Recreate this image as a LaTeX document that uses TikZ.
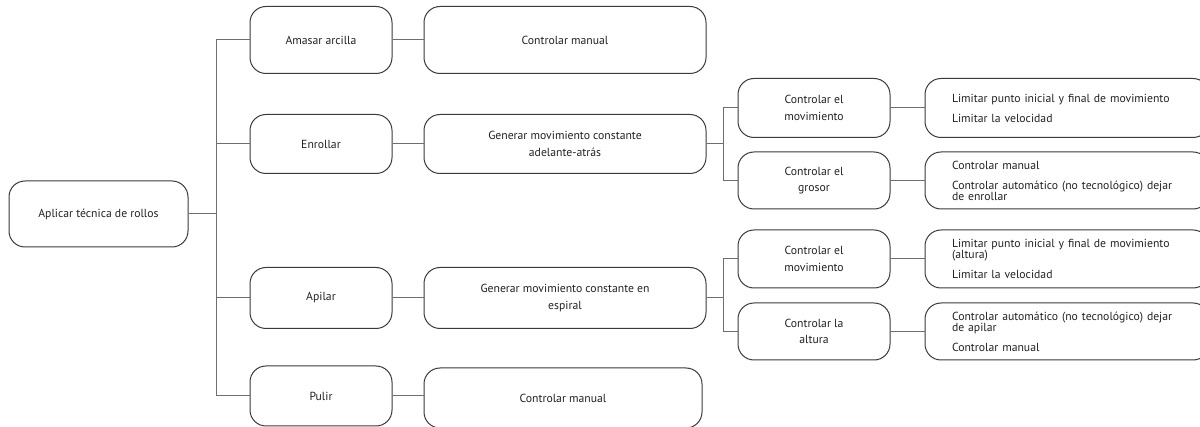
\documentclass[tikz,border=0pt]{standalone}
\usepackage{fontspec}
\setmainfont{PT Sans}
\definecolor{boxc}{HTML}{3A3A3A}
\definecolor{linec}{HTML}{6E6E6E}
\definecolor{txtc}{HTML}{222222}
\begin{document}
\begin{tikzpicture}[x=1pt,y=-1pt,
  box/.style={draw=boxc, line width=1pt, rounded corners=16pt, align=center,
    inner sep=0pt, text=txtc, font=\fontsize{11.7}{16.5}\selectfont},
  leftbox/.style={box, align=left, text width=230pt, inner xsep=27pt, inner ysep=0pt,
    minimum width=284pt, minimum height=#1, font=\fontsize{11.7}{11}\selectfont},
  conn/.style={draw=linec, line width=1pt}]
\clip (0,0) rectangle (1200,427);
\fill[white] (0,0) rectangle (1200,427);
% level 0
\node[box, minimum width=179pt, minimum height=66pt] (root) at (98.5,214) {Aplicar técnica de rollos};
% level 1
\node[box, minimum width=142pt, minimum height=67pt] (amasar) at (321,40) {Amasar arcilla};
\node[box, minimum width=142pt, minimum height=59pt] (enrollar) at (321,144) {Enrollar};
\node[box, minimum width=142pt, minimum height=61pt] (apilar) at (321,298) {Apilar};
\node[box, minimum width=142pt, minimum height=60pt] (pulir) at (321,396) {Pulir};
% level 2
\node[box, minimum width=282pt, minimum height=67pt] (cm1) at (565,40) {Controlar manual};
\node[box, minimum width=282pt, minimum height=59pt] (gen1) at (565,144) {Generar movimiento constante\\adelante-atrás};
\node[box, minimum width=282pt, minimum height=61pt] (gen2) at (565,298) {Generar movimiento constante en\\espiral};
\node[box, minimum width=278pt, minimum height=60pt] (cm2) at (563,398) {Controlar manual};
% level 3
\node[box, minimum width=152pt, minimum height=59pt] (mov1) at (814,108) {Controlar el\\movimiento};
\node[box, minimum width=152pt, minimum height=57pt] (gros) at (814,180.5) {Controlar el\\grosor};
\node[box, minimum width=152pt, minimum height=58pt] (mov2) at (814,259) {Controlar el\\movimiento};
\node[box, minimum width=152pt, minimum height=57pt] (alt) at (814,331.5) {Controlar la\\altura};
% level 4
\node[leftbox=59pt] (lim1) at (1067,108) {Limitar punto inicial y final de movimiento\\[9pt]Limitar la velocidad};
\node[leftbox=57pt] (man1) at (1067,180.5) {Controlar manual\\[9pt]Controlar automático (no tecnológico) dejar\\de enrollar};
\node[leftbox=58pt] (lim2) at (1067,259) {Limitar punto inicial y final de movimiento\\(altura)\\[9pt]Limitar la velocidad};
\node[leftbox=57pt] (aut2) at (1067,331.5) {Controlar automático (no tecnológico) dejar\\de apilar\\[9pt]Controlar manual};
% connectors level 0-1
\coordinate (t0) at (216,214);
\draw[conn] (root.east) -- (t0);
\draw[conn] (amasar.west) -| (t0);
\draw[conn] (pulir.west) -| (t0);
\draw[conn] (enrollar.west) -- (enrollar.west -| t0);
\draw[conn] (apilar.west) -- (apilar.west -| t0);
% level 1-2
\draw[conn] (amasar.east) -- (cm1.west);
\draw[conn] (enrollar.east) -- (gen1.west);
\draw[conn] (apilar.east) -- (gen2.west);
\draw[conn] (pulir.east) -- (pulir.east -| cm2.west);
% level 2-3
\coordinate (r1) at (723,144);
\coordinate (r2) at (723,298);
\draw[conn] (gen1.east) -- (r1);
\draw[conn] (mov1.west) -| (r1);
\draw[conn] (gros.west) -| (r1);
\draw[conn] (gen2.east) -- (r2);
\draw[conn] (mov2.west) -| (r2);
\draw[conn] (alt.west) -| (r2);
% level 3-4
\draw[conn] (mov1.east) -- (lim1.west);
\draw[conn] (gros.east) -- (man1.west);
\draw[conn] (mov2.east) -- (lim2.west);
\draw[conn] (alt.east) -- (aut2.west);
\end{tikzpicture}
\end{document}
